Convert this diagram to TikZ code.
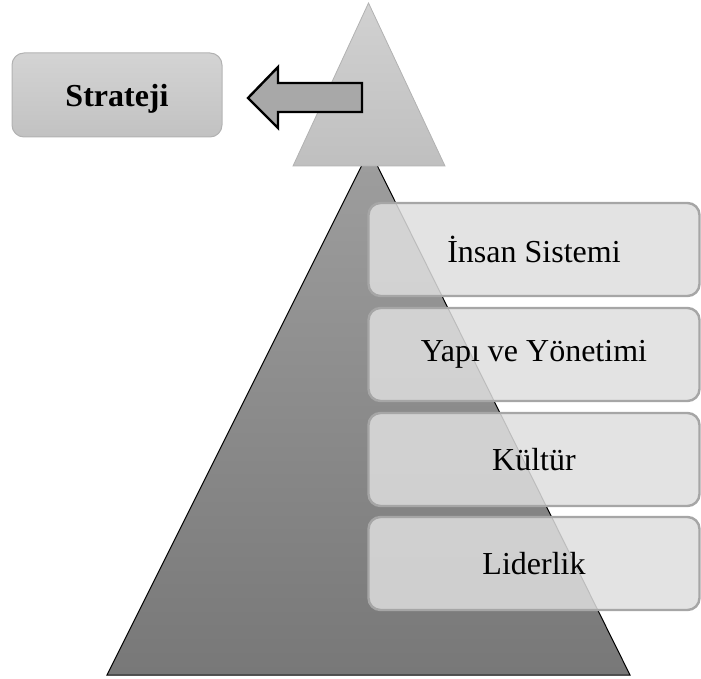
\documentclass[tikz,border=0pt]{standalone}
\usepackage{fontspec}
\setmainfont{Liberation Serif}
\begin{document}
\begin{tikzpicture}[x=1pt,y=-1pt,
  layerbox/.style={draw=black!35, line width=2.4pt, rounded corners=12pt,
    fill=black!13, fill opacity=0.85, text opacity=1,
    minimum width=331pt, minimum height=93pt, inner sep=0pt,
    font=\fontsize{32}{38}\selectfont},
  topbox/.style={draw=black!30, line width=1pt, rounded corners=12pt,
    top color=black!17, bottom color=black!24,
    minimum width=210pt, minimum height=84pt, inner sep=0pt,
    text depth=0pt, font=\fontsize{32}{38}\selectfont\bfseries}]
\useasboundingbox (0,0) rectangle (701,679);

% base pyramid
\draw[draw=black, line width=1pt, top color=black!38, bottom color=black!53]
  (369.5,150) -- (630,675) -- (107,675) -- cycle;

% apex triangle
\draw[draw=black!30, line width=0.8pt, top color=black!18, bottom color=black!25]
  (368.5,3) -- (445,166) -- (293,166) -- cycle;

% strategy box
\node[topbox] (strateji) at (117,95) {Strateji};

% block arrow pointing from the apex to the strategy box
\draw[draw=black, line width=2.4pt, fill=black!34, line join=miter]
  (362,83) -- (278,83) -- (278,67) -- (248,98) -- (278,128) -- (278,112) -- (362,112) -- cycle;

% layers
\node[layerbox] (insan)  at (534,249.5) {İnsan Sistemi};
\node[layerbox] (yapi)   at (534,354.5) {Yapı ve Yönetimi};
\node[layerbox] (kultur) at (534,459.5) {Kültür};
\node[layerbox] (lider)  at (534,563.5) {Liderlik};
\end{tikzpicture}
\end{document}
